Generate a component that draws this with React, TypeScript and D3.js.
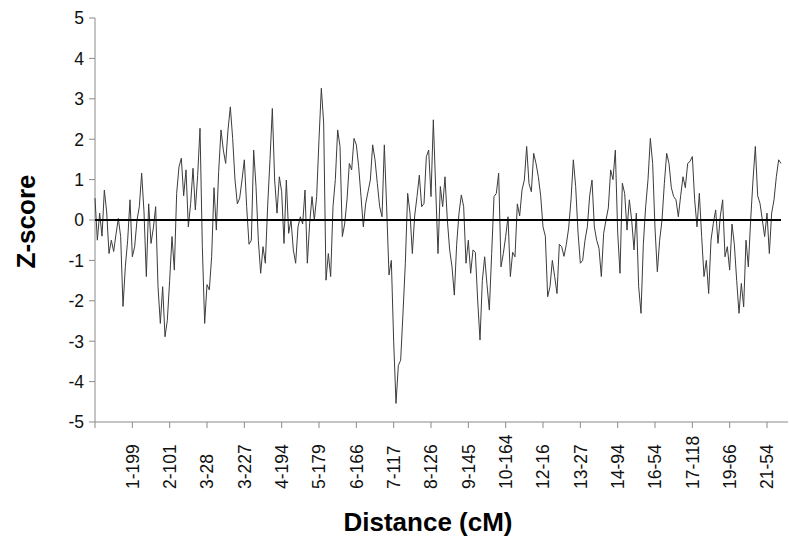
import React from "react";
import * as d3 from "d3";

// Z-score series, equally spaced markers along the genome
const zScores: number[] = [
  0.54, -0.5, 0.17, -0.4, 0.74, 0.2, -0.83, -0.5, -0.78, -0.35,
  0.04, -0.41, -2.14, -1.16, -0.5, 0.5, -0.91, -0.66, 0, 0.33,
  1.16, 0.2, -1.4, 0.4, -0.58, -0.2, 0.33, -1.65, -2.56, -1.65,
  -2.89, -2.48, -1.49, -0.41, -1.24, 0.66, 1.32, 1.53, 0.6, 1.24,
  -0.17, 0.41, 1.28, 0.25, 1.1, 2.27, -0.66, -2.56, -1.6, -1.73,
  -0.9, 0.8, -0.25, 1.2, 2.23, 1.73, 1.4, 2.23, 2.8, 2.02,
  0.99, 0.4, 0.54, 0.99, 1.49, 0.33, -0.6, -0.5, 1.73, 0.83,
  -0.5, -1.32, -0.66, -1.07, 0.35, 1.5, 2.76, 0.99, 0.17, 1.07,
  0.7, -0.58, 0.99, -0.33, 0, -0.74, -1.07, -0.17, 0.08, -0.1,
  0.74, -1.07, -0.08, 0.58, 0, 0.58, 2.0, 3.26, 2.4, -1.49,
  -0.83, -1.4, 0.33, 1.0, 2.23, 1.82, -0.41, -0.1, 0.5, 1.4,
  1.24, 2.02, 1.86, 1.32, 0.58, -0.17, 0.4, 0.7, 0.99, 1.86,
  1.49, 0.9, 0.33, 0.08, 1.86, 0.3, -1.36, -1.0, -3.0, -4.54,
  -3.6, -3.47, -2.3, -1.07, 0.66, 0.17, -0.83, 0.1, 0.58, 1.11,
  0.33, 0.41, 1.57, 1.73, 0.58, 2.48, 0.8, -0.83, 0.83, 0.33,
  1.07, 0, -0.74, -1.16, -1.86, -0.6, 0.17, 0.62, 0.33, -1.07,
  -0.5, -1.32, -0.74, -0.8, -1.98, -2.97, -1.5, -0.91, -1.6, -2.23,
  -0.83, 0.58, 0.66, 1.16, -1.16, -0.83, -0.41, 0.08, -1.4, -0.8,
  -0.91, 0.4, 0.1, 0.74, 0.99, 1.82, 0.9, 0.7, 1.65, 1.4,
  1.07, 0.6, -0.17, -0.4, -1.9, -1.65, -1.0, -1.4, -1.82, -0.6,
  -0.66, -0.9, -0.6, -0.2, 0.5, 1.49, 0.83, -0.3, -1.07, -1.0,
  -0.5, -0.17, 0.6, 0.99, -0.17, -0.5, -0.7, -1.4, -0.33, 0,
  0.3, 1.24, 1.0, 1.73, -0.3, -1.32, 0.91, 0.66, -0.25, 0.5,
  0, -0.74, 0.17, -1.65, -2.31, -0.6, 0.33, 1.0, 2.02, 1.4,
  -0.2, -1.28, -0.5, 0, 0.9, 1.65, 1.4, 0.8, 0.58, 0.5,
  0.08, 0.6, 1.07, 0.8, 1.4, 1.45, 1.57, 0.5, -0.17, 0.66,
  -0.41, -1.4, -1.0, -1.82, -0.5, -0.08, 0.25, -0.58, 0.1, 0.5,
  -0.91, -0.66, -1.24, -0.1, -0.6, -1.49, -2.31, -1.57, -2.15, -0.5,
  -1.16, 0.0, 0.99, 1.82, 0.6, 0.41, 0, -0.41, 0.17, -0.83,
  0.17, 0.5, 1.07, 1.49, 1.4,
];

// Marker labels shown every 16 markers on the distance axis
const tickLabels: string[] = [
  "1-199", "2-101", "3-28", "3-227", "4-194", "5-179", "6-166", "7-117",
  "8-126", "9-145", "10-164", "12-16", "13-27", "14-94", "16-54", "17-118",
  "19-66", "21-54",
];
const markersPerTick = 16;
const totalMarkers = 297;
const yTicks: number[] = [-5, -4, -3, -2, -1, 0, 1, 2, 3, 4, 5];

const FONT = "'Liberation Sans', Arial, Helvetica, sans-serif";

export default function App() {
  const width = 790;
  const height = 542;
  const left = 95;
  const right = 788;
  const top = 18;
  const bottom = 422;

  const x = d3.scaleLinear().domain([0, totalMarkers]).range([left, right]);
  const y = d3.scaleLinear().domain([-5, 5]).range([bottom, top]);

  const line = d3
    .line<number>()
    .x((_, i) => x(i))
    .y((d) => y(d));

  const tickIdx = d3.range(0, tickLabels.length + 1).map((k) => k * markersPerTick);
  const axisColor = "#8a8a8a";

  return (
    <svg
      width={width}
      height={height}
      style={{ position: "absolute", left: 0, top: 0, background: "#fff" }}
      fontFamily={FONT}
    >
      <rect x={0} y={0} width={width} height={height} fill="#fff" />
      {/* y axis */}
      <line x1={left} x2={left} y1={top} y2={bottom} stroke={axisColor} strokeWidth={1} />
      {yTicks.map((t) => (
        <g key={t}>
          <line x1={left - 6} x2={left} y1={y(t)} y2={y(t)} stroke={axisColor} strokeWidth={1} />
          <text x={84} y={y(t)} dy="0.36em" textAnchor="end" fontSize={17.5} fill="#111">
            {t}
          </text>
        </g>
      ))}
      {/* x axis */}
      <line x1={left} x2={right} y1={bottom} y2={bottom} stroke={axisColor} strokeWidth={1} />
      {tickIdx.map((t, k) => (
        <g key={t}>
          <line x1={x(t)} x2={x(t)} y1={bottom} y2={bottom + 6} stroke={axisColor} strokeWidth={1} />
          {k > 0 && (
            <text
              transform={`translate(${x(t)},489) rotate(-90)`}
              dy="0.36em"
              textAnchor="start"
              fontSize={17.5}
              fill="#111"
            >
              {tickLabels[k - 1]}
            </text>
          )}
        </g>
      ))}
      {/* data */}
      <path
        d={line(zScores) || ""}
        fill="none"
        stroke="#3c3c3c"
        strokeWidth={1}
        strokeLinejoin="round"
      />
      {/* zero line */}
      <line
        x1={x(0)}
        x2={x(zScores.length - 1)}
        y1={y(0)}
        y2={y(0)}
        stroke="#000"
        strokeWidth={1.8}
      />
      {/* titles */}
      <text
        transform={`translate(34.5,221.5) rotate(-90)`}
        textAnchor="middle"
        fontSize={26}
        fontWeight="bold"
        fill="#000"
      >
        Z-score
      </text>
      <text x={428} y={530.5} textAnchor="middle" fontSize={26} fontWeight="bold" fill="#000">
        Distance (cM)
      </text>
    </svg>
  );
}
